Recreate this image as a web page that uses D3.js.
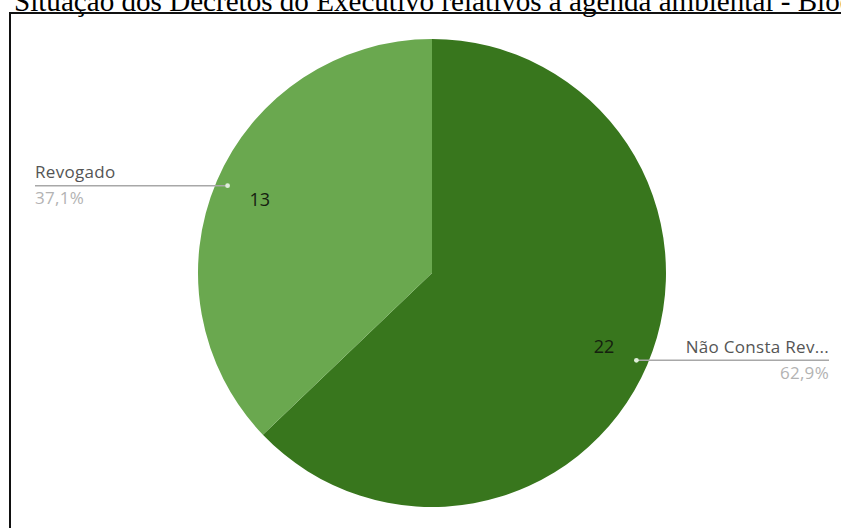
<!DOCTYPE html>
<html>
<head>
<meta charset="utf-8">
<script src="https://cdn.jsdelivr.net/npm/d3@7"></script>
<style>
  html, body { margin: 0; padding: 0; background: #fff; overflow: hidden; }
  svg { display: block; }
</style>
</head>
<body>
<svg id="chart" width="841" height="528"></svg>
<script>
// Situação dos decretos: quantidade por categoria
const categories = ["Não Consta Revogação", "Revogado"];
const shortNames = ["Não Consta Rev...", "Revogado"];
const values = [22, 13];
const colors = ["#38761d", "#6aa84f"];
const titleText = "Situação dos Decretos do Executivo relativos à agenda ambiental - Biodiversidade";
const titleVisible = "Situação dos Decretos do Executivo relativos à agenda ambiental - Bio";

const svg = d3.select("#chart");
const W = 841, H = 528;

// Title, Times-style, partly cut by the top edge
const title = svg.append("text")
  .attr("x", 14).attr("y", 11)
  .attr("font-family", "'Liberation Serif', 'Times New Roman', serif")
  .attr("font-size", 20)
  .attr("fill", "#000")
  .text(titleVisible);
const wVis = title.node().getComputedTextLength();
const fs = 20 * (840 - 14) / wVis;
title.attr("font-size", fs).text(titleText);

// Frame around the chart
svg.append("path")
  .attr("d", `M10,${H + 5} L10,13 L${W + 5},13`)
  .attr("fill", "none").attr("stroke", "#111").attr("stroke-width", 2);

const cx = 432, cy = 273, R = 234;
const total = d3.sum(values);
const data = categories.map((c, i) => ({ cat: c, name: shortNames[i], value: values[i], color: colors[i] }));

const pie = d3.pie().value(d => d.value).sort(null);
const arcs = pie(data);
const arc = d3.arc().innerRadius(0).outerRadius(R);
const valueArc = d3.arc().innerRadius(R * 0.8).outerRadius(R * 0.8);
const leaderArc = d3.arc().innerRadius(R * 0.95).outerRadius(R * 0.95);

const g = svg.append("g").attr("transform", `translate(${cx},${cy})`);

g.selectAll("path.slice").data(arcs).join("path")
  .attr("class", "slice")
  .attr("d", arc)
  .attr("fill", d => d.data.color);

g.selectAll("text.val").data(arcs).join("text")
  .attr("class", "val")
  .attr("x", d => valueArc.centroid(d)[0])
  .attr("y", d => valueArc.centroid(d)[1])
  .attr("text-anchor", "middle")
  .attr("dy", "0.35em")
  .attr("font-family", "'Open Sans', sans-serif")
  .attr("font-size", 18)
  .attr("fill", "#15200f")
  .text(d => d.data.value);

const fmtPct = v => (v * 100).toFixed(1).replace(".", ",") + "%";
const leftEnd = 35 - cx, rightEnd = 829 - cx;

arcs.forEach(d => {
  const [px, py] = leaderArc.centroid(d);
  const right = px > 0;
  const ex = right ? rightEnd : leftEnd;
  g.append("line")
    .attr("x1", px).attr("y1", py).attr("x2", ex).attr("y2", py)
    .attr("stroke", "#a8a8a8").attr("stroke-width", 1.5);
  g.append("circle")
    .attr("cx", px).attr("cy", py).attr("r", 2.4)
    .attr("fill", "#dfeeda");
  const anchor = right ? "end" : "start";
  g.append("text")
    .attr("x", ex).attr("y", py - 7.5)
    .attr("text-anchor", anchor)
    .attr("font-family", "'Open Sans', sans-serif")
    .attr("font-size", 17)
    .attr("letter-spacing", 0.3)
    .attr("fill", "#555")
    .text(d.data.name);
  g.append("text")
    .attr("x", ex).attr("y", py + 18.5)
    .attr("text-anchor", anchor)
    .attr("font-family", "'Open Sans', sans-serif")
    .attr("font-size", 17)
    .attr("letter-spacing", 0.3)
    .attr("fill", "#b3b3b3")
    .text(fmtPct(d.data.value / total));
});
</script>
</body>
</html>
